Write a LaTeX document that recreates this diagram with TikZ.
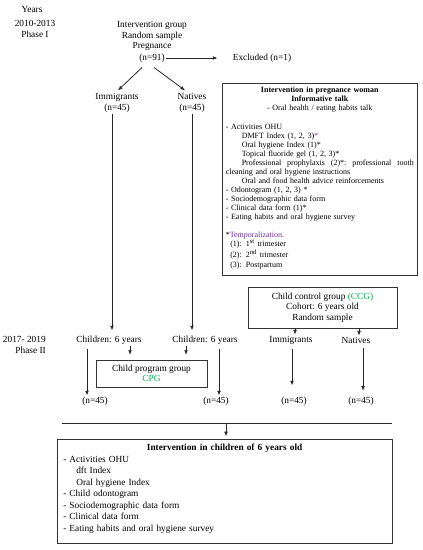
\documentclass[tikz,border=0pt]{standalone}
\usepackage{fontspec}
\setmainfont{Liberation Serif}
\usepackage{xcolor}
\usetikzlibrary{arrows.meta,calc}
\definecolor{tmpurple}{RGB}{112,48,160}
\definecolor{grpgreen}{RGB}{0,176,80}

\begin{document}
\begin{tikzpicture}[x=0.75pt,y=0.75pt,yscale=-1,xscale=1,
  txt/.style={inner sep=0.75pt,align=center,font=\fontsize{7}{7.9}\selectfont},
  frame/.style={draw=black!80,line width=0.6pt,inner sep=0pt},
  arr/.style={draw=black!85,line width=0.6pt,-{Latex[length=3.5pt,width=2.8pt]}},
  plain/.style={draw=black!85,line width=0.6pt}]
\useasboundingbox (0,0) rectangle (423,550);

% Text Node
\node[txt] (years) at (32,9) {Years};
% Text Node
\node[txt] (phaseone) at (35,29) {2010-2013\\Phase I};
% Text Node
\node[txt] (preg) at (152,36) {Intervention group\\Random sample\\Pregnance};
% Text Node
\node[txt] (pregn) at (152,58) {(n=91)};
% Text Node
\node[txt] (excl) at (262,58) {Excluded (n=1)};
% Text Node
\node[txt] (imm) at (117,103) {Immigrants\\(n=45)};
% Text Node
\node[txt] (nat) at (192,103) {Natives\\(n=45)};

%Shape: Rectangle
\node[frame,anchor=north west,minimum width=146.25pt,minimum height=144pt] (pregbox) at (222,83) {};
% Text Node
\node[anchor=north west,inner sep=0pt,text width=141pt,align=left,font=\fontsize{6}{6.8}\selectfont] (pregtxt) at (225.5,87) {%
\makebox[141pt]{\textbf{Intervention in pregnance woman}}\\
\makebox[141pt]{\textbf{Informative talk}}\\
\makebox[141pt]{- Oral health / eating habits talk}\\[6.8pt]
- Activities OHU\\
\hspace*{12pt}DMFT Index (1, 2, 3)\textcolor{tmpurple}{*}\\
\hspace*{12pt}Oral hygiene Index (1)*\\
\hspace*{12pt}Topical fluoride gel (1, 2, 3)*\\
\hspace*{12pt}\makebox[129pt]{Professional\hfill prophylaxis\hfill (2)*:\hfill professional\hfill tooth}\\
cleaning and oral hygiene instructions\\
\hspace*{12pt}Oral and food health advice reinforcements\\
- Odontogram (1, 2, 3) *\\
- Sociodemographic data form\\
- Clinical data form (1)*\\
- Eating habits and oral hygiene survey\\[6.8pt]
*\textcolor{tmpurple}{Temporalization.}\\
\hspace*{3.4pt}(1): 1\textsuperscript{st} trimester\\
\hspace*{3.4pt}(2): 2\textsuperscript{nd} trimester\\
\hspace*{3.4pt}(3): Postpartum};

%Shape: Rectangle
\node[frame,txt,inner sep=0pt,minimum width=111.75pt,minimum height=30.75pt] (ccg) at (322.5,307.5) {Child control group \textcolor{grpgreen}{(CCG)}\\Cohort: 6 years old\\Random sample};

% Text Node
\node[txt,anchor=east,align=right] (phasetwo) at (47,345) {2017- 2019\\Phase II};
% Text Node
\node[txt] (kidsa) at (109,340) {Children: 6 years};
% Text Node
\node[txt] (kidsb) at (205,340) {Children: 6 years};
% Text Node
\node[txt] (cimm) at (291,340) {Immigrants};
% Text Node
\node[txt] (cnat) at (356,340) {Natives};

%Shape: Rectangle
\node[frame,txt,inner sep=0pt,minimum width=83.25pt,minimum height=20.25pt] (cpg) at (151.5,373.5) {Child program group\\\textcolor{grpgreen}{CPG}};

% Text Node
\node[txt] (na) at (95,401) {(n=45)};
% Text Node
\node[txt] (nb) at (216,401) {(n=45)};
% Text Node
\node[txt] (nc) at (294,401) {(n=45)};
% Text Node
\node[txt] (nd) at (361,401) {(n=45)};

%Shape: Rectangle
\node[frame,anchor=north west,minimum width=251.25pt,minimum height=78pt] (kidbox) at (57,439) {};
% Text Node
\node[anchor=north west,inner sep=0pt,text width=242pt,align=left,font=\fontsize{7}{8.6}\selectfont] (kidtxt) at (63,444) {%
\makebox[242pt]{\textbf{Intervention in children of 6 years old}}\\
- Activities OHU\\
\hspace*{9.75pt}dft Index\\
\hspace*{9.75pt}Oral hygiene Index\\
- Child odontogram\\
- Sociodemographic data form\\
- Clinical data form\\
- Eating habits and oral hygiene survey};

% Coordinates
\coordinate (imml) at ($(imm.south)+(-5,0)$);
\coordinate (natl) at (nat.south);
\coordinate (kaa) at ($(kidsa.south)+(21,0)$);
\coordinate (kba) at ($(kidsb.south)+(-19,0)$);
\coordinate (kal) at ($(kidsa.south)+(-22,0)$);
\coordinate (kbl) at ($(kidsb.south)+(14,0)$);
\coordinate (ccgi) at ($(ccg.south)+(-27.5,0)$);
\coordinate (ccgn) at ($(ccg.south)+(36.5,0)$);
\coordinate (cil) at ($(cimm.south)+(1,0)$);
\coordinate (cnl) at ($(cnat.south)+(7,0)$);
\coordinate (mgl) at (62,423);
\coordinate (mgr) at (392,423);
\coordinate (mgc) at (226,423);

%Straight Lines
\draw[arr,shorten >=10.5pt] (pregn.east) -- (excl.west);
\draw[arr] ($(pregn.south)+(-10,4)$) -- ($(imm.north)+(1,-2)$);
\draw[arr] ($(pregn.south)+(2,4)$) -- ($(nat.north)+(-7,-2)$);
%Straight Lines
\draw[arr,shorten >=3pt] (imml) -- (imml |- kidsa.north);
\draw[arr,shorten >=3pt] (natl) -- (natl |- kidsb.north);
%Straight Lines
\draw[arr,shorten >=3.5pt] (kaa) -- (kaa |- cpg.north);
\draw[arr,shorten >=3.5pt] (kba) -- (kba |- cpg.north);
\draw[arr,shorten <=2.5pt] (kal) -- (kal |- na.north);
\draw[arr,shorten <=2.5pt] (kbl) -- (kbl |- nb.north);
%Straight Lines
\draw[arr] (ccgi) -- (ccgi |- cimm.north);
\draw[arr] (ccgn) -- (ccgn |- cnat.north);
\draw[arr,shorten <=2.5pt,shorten >=7.5pt] (cil) -- (cil |- nc.north);
\draw[arr,shorten <=2.5pt,shorten >=3.5pt] (cnl) -- (cnl |- nd.north);
%Straight Lines
\draw[plain] (mgl) -- (mgr);
\draw[arr,shorten >=2pt] (mgc) -- (mgc |- kidbox.north);

\end{tikzpicture}
\end{document}
